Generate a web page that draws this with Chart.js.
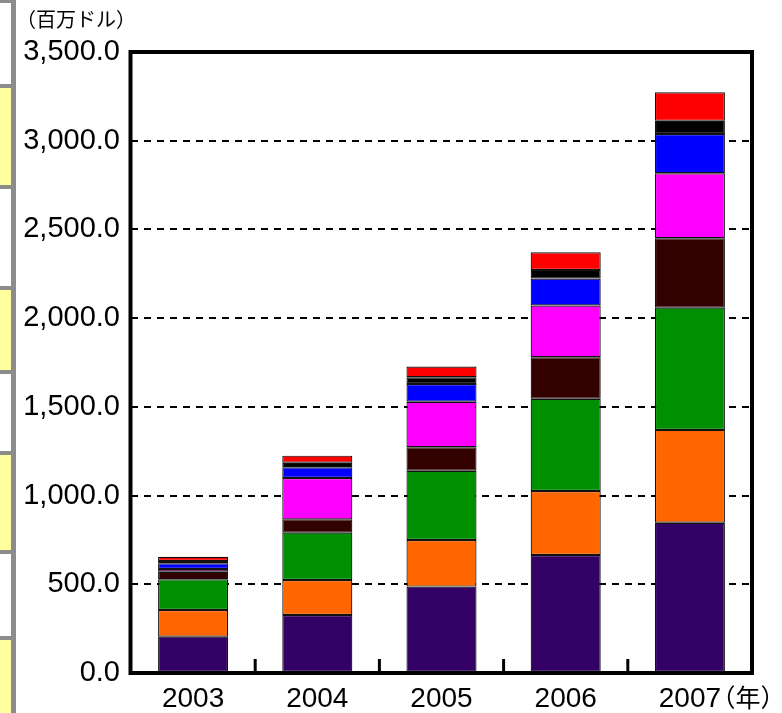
<!DOCTYPE html>
<html><head><meta charset="utf-8">
<script src="https://cdn.jsdelivr.net/npm/chart.js@4"></script>
<style>
html,body{margin:0;padding:0;background:#fff;}
#wrap{position:relative;width:782px;height:713px;overflow:hidden;}
#c{position:absolute;left:0;top:0;}
.s{position:absolute;}
</style></head><body>
<div id="wrap">
  <div class="s" style="left:11px;top:0;width:5px;height:713px;background:#8c8c8c"></div>
  <div class="s" style="left:0;top:0;width:11px;height:3px;background:#8c8c8c"></div>
  <div class="s" style="left:0;top:84px;width:11px;height:4px;background:#8c8c8c"></div>
  <div class="s" style="left:0;top:88px;width:11px;height:97px;background:#ffff9f"></div>
  <div class="s" style="left:0;top:185px;width:11px;height:4px;background:#8c8c8c"></div>
  <div class="s" style="left:0;top:286px;width:11px;height:4px;background:#8c8c8c"></div>
  <div class="s" style="left:0;top:290px;width:11px;height:80px;background:#ffff9f"></div>
  <div class="s" style="left:0;top:370px;width:11px;height:4px;background:#8c8c8c"></div>
  <div class="s" style="left:0;top:451px;width:11px;height:4px;background:#8c8c8c"></div>
  <div class="s" style="left:0;top:455px;width:11px;height:95px;background:#ffff9f"></div>
  <div class="s" style="left:0;top:550px;width:11px;height:4px;background:#8c8c8c"></div>
  <div class="s" style="left:0;top:636px;width:11px;height:4px;background:#8c8c8c"></div>
  <div class="s" style="left:0;top:640px;width:11px;height:73px;background:#ffff9f"></div>
  <canvas id="c" width="782" height="713"></canvas>
</div>
<script>
const years = ['2003','2004','2005','2006','2007'];
const seriesNames = ['系列1','系列2','系列3','系列4','系列5','系列6','系列7','系列8'];
const s1 = [205, 327, 487, 665, 847];
const s2 = [150, 197, 263, 361, 523];
const s3 = [173, 267, 390, 520, 689];
const s4 = [43, 75, 132, 234, 391];
const s5 = [15, 233, 257, 291, 367];
const s6 = [32, 61, 100, 152, 221];
const s7 = [13, 25, 38, 49, 74];
const s8 = [24, 40, 60, 99, 161];
const colors = ['#330066','#ff6600','#008f00','#330000','#ff00ff','#0000ff','#000000','#ff0000'];
const yUnit = '（百万ドル）';
const xUnit = '（年）';

const allSeries = [s1,s2,s3,s4,s5,s6,s7,s8];
const datasets = allSeries.map((d,i)=>({
  label: seriesNames[i],
  data: d,
  backgroundColor: colors[i],
  borderColor: '#111',
  borderWidth: 1.2,
  borderSkipped: false,
  categoryPercentage: 1,
  barPercentage: 0.564
}));

const decor = {
  id: 'decor',
  afterDatasetsDraw(chart){
    const ctx = chart.ctx, ca = chart.chartArea, xs = chart.scales.x;
    ctx.save();
    ctx.strokeStyle = '#000';
    ctx.lineWidth = 3;
    for (let i = 0; i < years.length - 1; i++) {
      const xb = (xs.getPixelForValue(i) + xs.getPixelForValue(i+1)) / 2;
      ctx.beginPath();
      ctx.moveTo(xb, ca.bottom);
      ctx.lineTo(xb, ca.bottom - 14);
      ctx.stroke();
    }
    ctx.lineWidth = 4;
    ctx.strokeRect(ca.left - 0.5, ca.top, ca.right - ca.left + 0.5, ca.bottom - ca.top);
    ctx.fillStyle = '#000';
    ctx.textAlign = 'center';
    ctx.textBaseline = 'middle';
    ctx.font = '20px "Noto Sans CJK JP"';
    ctx.fillText(yUnit, 76, 19);
    ctx.font = '25px "Noto Sans CJK JP"';
    ctx.fillText(xUnit, 748, 697);
    ctx.restore();
  }
};

new Chart(document.getElementById('c'), {
  type: 'bar',
  data: { labels: years, datasets },
  options: {
    responsive: false,
    animation: false,
    devicePixelRatio: 1,
    layout: { padding: { left: 0, top: 52, right: 30, bottom: 0 } },
    plugins: { legend: { display: false }, tooltip: { enabled: false } },
    scales: {
      x: {
        stacked: true,
        grid: { display: false, drawTicks: false },
        border: { display: false },
        ticks: { color: '#000', font: { family: '"Liberation Sans", Arial, sans-serif', size: 28 }, padding: 9 },
        afterFit(s){ s.height = 40; }
      },
      y: {
        stacked: true,
        min: 0, max: 3500,
        grid: { color: '#000', lineWidth: 2, drawTicks: false },
        border: { display: false, dash: [7,6] },
        ticks: {
          stepSize: 500,
          color: '#000',
          padding: 11,
          font: { family: '"Liberation Sans", Arial, sans-serif', size: 29 },
          callback: v => Number(v).toLocaleString('en-US', { minimumFractionDigits: 1, maximumFractionDigits: 1 })
        },
        afterFit(s){ s.width = 131; }
      }
    }
  },
  plugins: [decor]
});
</script>
</body></html>
